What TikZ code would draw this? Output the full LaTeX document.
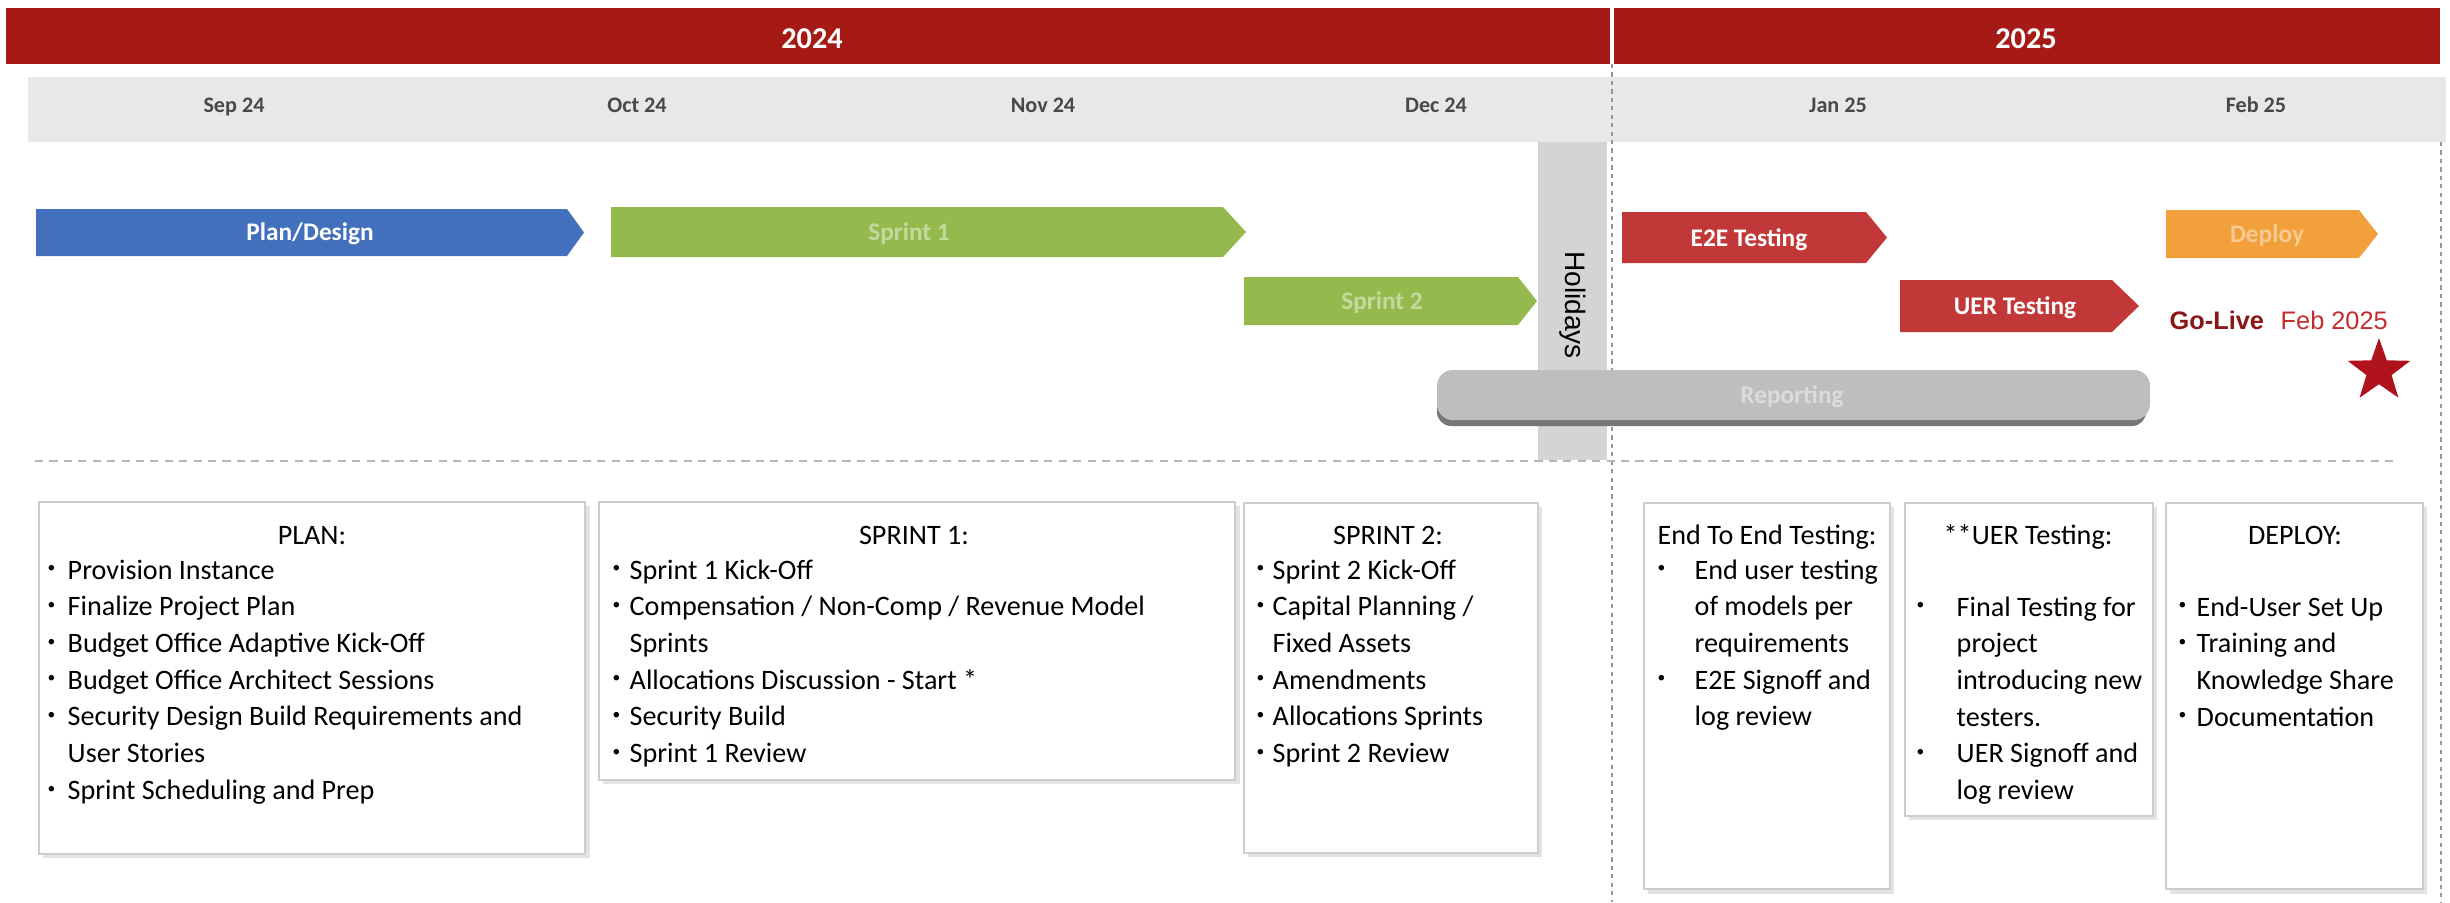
\documentclass[tikz,border=0pt]{standalone}
\usepackage{fontspec}
\setmainfont{Carlito}
\newfontfamily\arialfont{Liberation Sans}
\usetikzlibrary{shadows,shapes.geometric}

\definecolor{yearred}{RGB}{166,26,22}
\definecolor{monthgray}{RGB}{232,232,232}
\definecolor{monthtxt}{RGB}{72,72,72}
\definecolor{planblue}{RGB}{66,112,188}
\definecolor{sprintgreen}{RGB}{148,186,78}
\definecolor{testred}{RGB}{194,56,56}
\definecolor{deployorange}{RGB}{242,160,60}
\definecolor{holgray}{RGB}{212,212,212}
\definecolor{repgray}{RGB}{190,190,190}
\definecolor{repdark}{RGB}{118,118,118}
\definecolor{boxline}{RGB}{205,205,205}
\definecolor{golivered}{RGB}{140,22,22}
\definecolor{febred}{RGB}{196,44,44}
\definecolor{starred}{RGB}{176,18,30}
\definecolor{guide}{RGB}{150,150,150}

\newcommand{\boxfont}{\fontsize{8}{10.44}\selectfont}
\newcommand{\bul}{\raisebox{0.22em}{\scalebox{0.55}{•}}}
% chevron bar: x start, body end, tip, top, bottom, colour
\newcommand{\chevbar}[6]{%
  \fill[#6] (#1,#4) -- (#2,#4) -- (#3,{(#4+#5)/2}) -- (#2,#5) -- (#1,#5) -- cycle;}

\begin{document}
\begin{tikzpicture}[x=0.01cm,y=-0.01cm,
  yeartext/.style={text=white,font=\fontsize{8.6}{10}\selectfont\bfseries,inner sep=0,anchor=base},
  monthtext/.style={text=monthtxt,font=\fontsize{6.3}{8}\selectfont\bfseries,inner sep=0,anchor=base},
  barlabel/.style={text=white,font=\fontsize{7.2}{9}\selectfont\bfseries,inner sep=0,anchor=base},
  fadelabel/.style={barlabel,text opacity=0.45},
  infobox/.style={draw=boxline,fill=white,line width=0.6pt,inner sep=0,anchor=north west,
    drop shadow={opacity=0.22,shadow xshift=1.2pt,shadow yshift=-1.2pt}},
  boxtitle/.style={font=\boxfont,inner sep=0,anchor=base},
  boxlist/.style={font=\boxfont,inner sep=0,anchor=base west}]

\useasboundingbox (0,0) rectangle (2450,902);
\fill[white] (0,0) rectangle (2450,902);

% year band
\fill[yearred] (6,8) rectangle (1610,64);
\fill[yearred] (1614,8) rectangle (2440,64);
\node[yeartext] (y2024) at (812,48) {2024};
\node[yeartext] (y2025) at (2026,48) {2025};

% month band
\fill[monthgray] (28,77) rectangle (2446,142);
\node[monthtext] (sep) at (234,112) {Sep 24};
\node[monthtext] (oct) at (637,112) {Oct 24};
\node[monthtext] (nov) at (1043,112) {Nov 24};
\node[monthtext] (dec) at (1436,112) {Dec 24};
\node[monthtext] (jan) at (1838,112) {Jan 25};
\node[monthtext] (feb) at (2256,112) {Feb 25};

% year divider and right border guide
\draw[guide,line width=0.6pt,dash pattern=on 1.2pt off 1.2pt] (1612,64) -- (1612,902);
\draw[guide,line width=0.6pt,dash pattern=on 1.2pt off 1.2pt] (2441,142) -- (2441,902);

% holiday block
\fill[holgray] (1538,142) rectangle (1607,460);
\node[font=\arialfont\fontsize{8}{9}\selectfont,rotate=-90,inner sep=0] (holidays) at (1573,305) {Holidays};

% phase bars
\chevbar{36}{567}{584}{209}{256}{planblue}
\node[barlabel] (plan) at (310,240) {Plan/Design};
\chevbar{611}{1223}{1246}{207}{257}{sprintgreen}
\node[fadelabel] (sprint1) at (909,240) {Sprint 1};
\chevbar{1244}{1518}{1537}{277}{325}{sprintgreen}
\node[fadelabel] (sprint2) at (1382,309) {Sprint 2};
\chevbar{1622}{1866}{1887}{212}{263}{testred}
\node[barlabel] (e2e) at (1749,246) {E2E Testing};
\chevbar{1900}{2112}{2139}{280}{332}{testred}
\node[barlabel] (uer) at (2015,314) {UER Testing};
\chevbar{2166}{2359}{2378}{210}{258}{deployorange}
\node[fadelabel] (deploy) at (2267,242) {Deploy};

% reporting bar
\fill[repdark, rounded corners=4pt] (1437,380) -- (2146,380) -- (2146,426) -- (1437,426) -- cycle;
\fill[repgray, rounded corners=4.5pt] (1437,370) -- (2150,370) -- (2150,420) -- (1437,420) -- cycle;
\node[fadelabel] (reporting) at (1792,403) {Reporting};

% go-live marker
\node[font=\arialfont\fontsize{7.2}{9}\selectfont\bfseries,text=golivered,inner sep=0,anchor=base west] (golive) at (2169,329) {Go-Live};
\node[font=\arialfont\fontsize{7.2}{9}\selectfont,text=febred,inner sep=0,anchor=base west] (golivedate) at (2280,329) {Feb 2025};
\node[star,star points=5,star point ratio=2.5,fill=starred,minimum size=0.66cm,inner sep=0] (golivestar) at (2379,371) {};

% separator between timeline and details
\draw[guide!70,line width=0.6pt,dash pattern=on 2.3pt off 1.8pt] (35,461) -- (2398,461);

% detail boxes
\node[infobox,minimum width=5.46cm,minimum height=3.52cm] (planbox) at (38,501) {};
\node[infobox,minimum width=6.36cm,minimum height=2.78cm] (s1box) at (598,501) {};
\node[infobox,minimum width=2.94cm,minimum height=3.50cm] (s2box) at (1243,502) {};
\node[infobox,minimum width=2.46cm,minimum height=3.86cm] (e2ebox) at (1643,502) {};
\node[infobox,minimum width=2.48cm,minimum height=3.13cm] (uerbox) at (1904,502) {};
\node[infobox,minimum width=2.57cm,minimum height=3.86cm] (deploybox) at (2165,502) {};

% PLAN
\node[boxtitle] (plantitle) at (312,544) {PLAN:};
\node[boxlist] (planlist) at (47,579) {\begin{tabular}[t]{@{}p{0.2cm}@{}l@{}}
\bul & Provision Instance\\
\bul & Finalize Project Plan\\
\bul & Budget Office Adaptive Kick-Off\\
\bul & Budget Office Architect Sessions\\
\bul & Security Design Build Requirements and\\
     & User Stories\\
\bul & Sprint Scheduling and Prep
\end{tabular}};

% SPRINT 1
\node[boxtitle] (s1title) at (914,544) {SPRINT 1:};
\node[boxlist] (s1list) at (612,579) {\begin{tabular}[t]{@{}p{0.17cm}@{}l@{}}
\bul & Sprint 1 Kick-Off\\
\bul & Compensation / Non-Comp / Revenue Model\\
     & Sprints\\
\bul & Allocations Discussion - Start *\\
\bul & Security Build\\
\bul & Sprint 1 Review
\end{tabular}};

% SPRINT 2
\node[boxtitle] (s2title) at (1388,544) {SPRINT 2:};
\node[boxlist] (s2list) at (1256,579) {\begin{tabular}[t]{@{}p{0.16cm}@{}l@{}}
\bul & Sprint 2 Kick-Off\\
\bul & Capital Planning /\\
     & Fixed Assets\\
\bul & Amendments\\
\bul & Allocations Sprints\\
\bul & Sprint 2 Review
\end{tabular}};

% END TO END TESTING
\node[boxlist] (e2etitle) at (1657,544) {End To End Testing:};
\node[boxlist] (e2elist) at (1657,579) {\begin{tabular}[t]{@{}p{0.37cm}@{}l@{}}
\bul & End user testing\\
     & of models per\\
     & requirements\\
\bul & E2E Signoff and\\
     & log review
\end{tabular}};

% UER TESTING
\node[boxtitle] (uertitle) at (2028,544) {**UER Testing:};
\node[boxlist] (uerlist) at (1916,616) {\begin{tabular}[t]{@{}p{0.40cm}@{}l@{}}
\bul & Final Testing for\\
     & project\\
     & introducing new\\
     & testers.\\
\bul & UER Signoff and\\
     & log review
\end{tabular}};

% DEPLOY
\node[boxtitle] (deploytitle) at (2295,544) {DEPLOY:};
\node[boxlist] (deploylist) at (2178,616) {\begin{tabular}[t]{@{}p{0.18cm}@{}l@{}}
\bul & End-User Set Up\\
\bul & Training and\\
     & Knowledge Share\\
\bul & Documentation
\end{tabular}};

\end{tikzpicture}
\end{document}
